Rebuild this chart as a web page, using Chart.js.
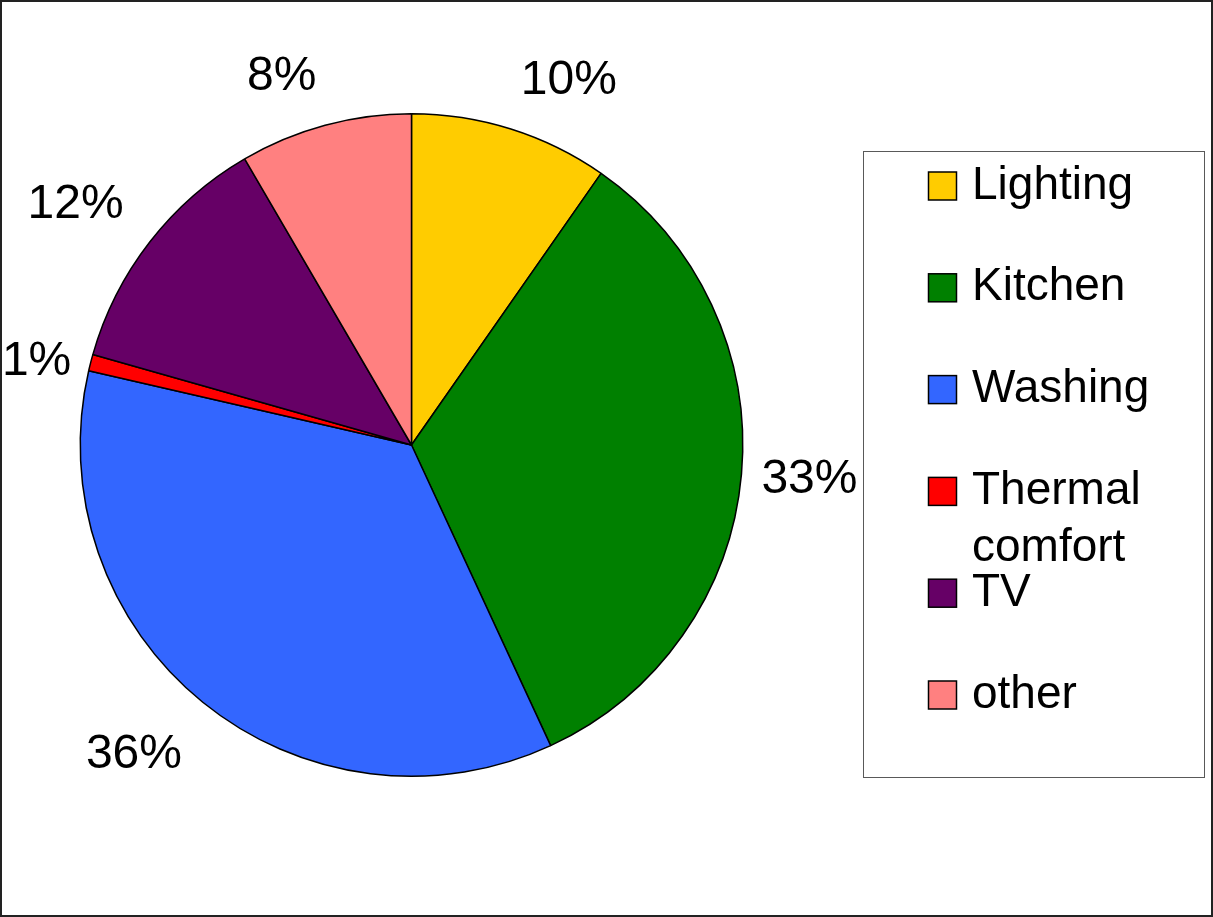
<!DOCTYPE html>
<html>
<head>
<meta charset="utf-8">
<script src="https://cdn.jsdelivr.net/npm/chart.js@4"></script>
<style>
  html, body { margin: 0; padding: 0; background: #fff; }
  #wrap { width: 1213px; height: 917px; }
</style>
</head>
<body>
<div id="wrap"><canvas id="myChart" width="1213" height="917"></canvas></div>
<script>
var categories = ['Lighting', 'Kitchen', 'Washing', 'Thermal comfort', 'TV', 'other'];
var shares = [9.7, 33.4, 35.5, 0.8, 12.2, 8.4];
var sliceColors = ['#FFCC00', '#008000', '#3366FF', '#FF0000', '#660066', '#FF8080'];

var FONT = '"Liberation Sans", Arial, sans-serif';

// white page with a thin frame round it
var frame = {
    id: 'frame',
    beforeDraw: function(chart) {
        var ctx = chart.ctx;
        ctx.save();
        ctx.fillStyle = '#fff';
        ctx.fillRect(0, 0, chart.width, chart.height);
        ctx.strokeStyle = '#222';
        ctx.lineWidth = 2;
        ctx.strokeRect(1, 1, chart.width - 2, chart.height - 2);
        ctx.restore();
    }
};

// percentage labels outside the slices
var pctLabels = {
    id: 'pctLabels',
    afterDatasetsDraw: function(chart) {
        var ctx = chart.ctx;
        var meta = chart.getDatasetMeta(0);
        var total = shares.reduce(function(a, b) { return a + b; }, 0);
        ctx.save();
        ctx.font = '48px ' + FONT;
        ctx.fillStyle = '#000';
        ctx.textAlign = 'center';
        ctx.textBaseline = 'middle';
        meta.data.forEach(function(arc, i) {
            var p = arc.getProps(['x', 'y', 'startAngle', 'endAngle', 'outerRadius'], true);
            var mid = (p.startAngle + p.endAngle) / 2;
            var ux = Math.cos(mid), uy = Math.sin(mid);
            var txt = Math.round(shares[i] / total * 100) + '%';
            var w = ctx.measureText(txt).width, h = 42;
            var sx = Math.abs(ux) > 0.26 ? Math.sign(ux) : 0;
            var sy = Math.abs(uy) > 0.26 ? Math.sign(uy) : 0;
            var gap = (sx && sy) ? 33 : 20;
            var ax = p.x + (p.outerRadius + gap) * ux;
            var ay = p.y + (p.outerRadius + gap) * uy;
            var dy = sy > 0 ? 6 : 4;
            ctx.fillText(txt, ax + sx * w / 2, ay + sy * h / 2 + dy);
        });
        ctx.restore();
    }
};

// boxed legend on the right, long names wrap onto a second line
var sideLegend = {
    id: 'sideLegend',
    afterDraw: function(chart) {
        var ctx = chart.ctx;
        var box = { x: 863.5, y: 151.5, w: 341, h: 626 };
        var rowH = 101.8, lineH = 57, textX = 972, maxW = box.x + box.w - textX - 8;
        ctx.save();
        ctx.strokeStyle = '#595959';
        ctx.lineWidth = 1;
        ctx.strokeRect(box.x, box.y, box.w, box.h);
        ctx.font = '46px ' + FONT;
        ctx.textAlign = 'left';
        ctx.textBaseline = 'middle';
        categories.forEach(function(name, i) {
            var cy = 186 + i * rowH;
            ctx.fillStyle = sliceColors[i];
            ctx.fillRect(928.5, cy - 14, 28, 28);
            ctx.strokeStyle = '#000';
            ctx.lineWidth = 1.5;
            ctx.strokeRect(928.5, cy - 14, 28, 28);
            // simple word wrap
            var words = name.split(' '), lines = [], cur = '';
            words.forEach(function(wd) {
                var test = cur ? cur + ' ' + wd : wd;
                if (cur && ctx.measureText(test).width > maxW) { lines.push(cur); cur = wd; }
                else cur = test;
            });
            lines.push(cur);
            ctx.fillStyle = '#000';
            lines.forEach(function(ln, k) { ctx.fillText(ln, textX, cy + k * lineH); });
        });
        ctx.restore();
    }
};

var ctx = document.getElementById('myChart').getContext('2d');

var myChart = new Chart(ctx, {
    type: 'pie',
    data: {
        labels: categories,
        datasets: [{
            data: shares,
            backgroundColor: sliceColors,
            borderColor: '#000',
            borderWidth: 1.5
        }]
    },
    options: {
        responsive: false,
        animation: false,
        layout: {
            padding: { left: 79, right: 469, top: 113, bottom: 140 }
        },
        plugins: {
            legend: { display: false },
            tooltip: { enabled: false }
        }
    },
    plugins: [frame, pctLabels, sideLegend]
});
</script>
</body>
</html>
